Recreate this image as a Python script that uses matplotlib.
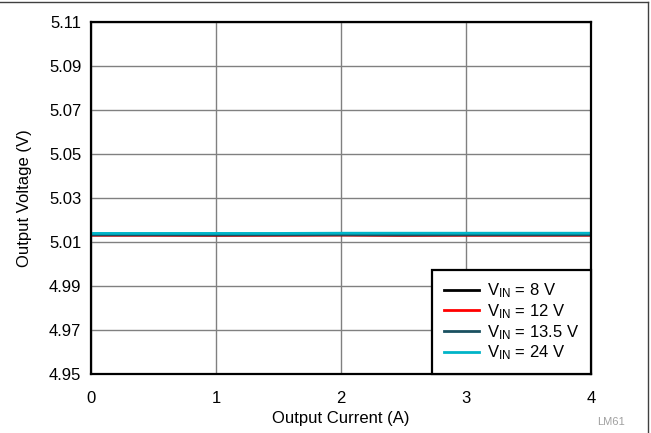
import numpy as np
import matplotlib.pyplot as plt
from matplotlib.lines import Line2D

plt.rcParams['font.family'] = ['Liberation Sans', 'DejaVu Sans']
plt.rcParams['mathtext.fontset'] = 'custom'
plt.rcParams['mathtext.rm'] = 'Liberation Sans'
plt.rcParams['mathtext.it'] = 'Liberation Sans'

# ======= DADOS =======
current = [0.0, 0.5, 1.0, 1.5, 2.0, 2.5, 3.0, 3.5, 4.0]
v_8 = [5.0132, 5.0132, 5.0131, 5.0132, 5.0132, 5.0131, 5.0132, 5.0132, 5.0132]
v_12 = [5.0131, 5.0131, 5.0131, 5.0131, 5.0132, 5.0131, 5.0131, 5.0131, 5.0131]
v_135 = [5.0133, 5.0133, 5.0133, 5.0133, 5.0134, 5.0133, 5.0133, 5.0133, 5.0133]
v_24 = [5.0139, 5.0139, 5.0139, 5.0139, 5.0140, 5.0140, 5.0140, 5.0140, 5.0140]

xticks = [0, 1, 2, 3, 4]
yticks = [4.95, 4.97, 4.99, 5.01, 5.03, 5.05, 5.07, 5.09, 5.11]

# ======= PLOTAR =======
fig = plt.figure(figsize=(6.51, 4.33), dpi=100)
ax = fig.add_axes([91/651, 1 - 374/433, 500/651, 352/433])

ax.plot(current, v_8, color="black", lw=2, label=r"V$_{\mathrm{IN}}$ = 8 V")
ax.plot(current, v_12, color="#ff0000", lw=2, label=r"V$_{\mathrm{IN}}$ = 12 V")
ax.plot(current, v_135, color="#1a5060", lw=2, label=r"V$_{\mathrm{IN}}$ = 13.5 V")
ax.plot(current, v_24, color="#00b4c8", lw=2, label=r"V$_{\mathrm{IN}}$ = 24 V")

ax.set_xlim(0, 4)
ax.set_ylim(4.95, 5.11)
ax.set_xticks(xticks)
ax.set_yticks(yticks)
ax.set_yticklabels([f"{y:.2f}" for y in yticks])
ax.tick_params(length=0, labelsize=12)
ax.tick_params(axis="x", pad=12)
ax.tick_params(axis="y", pad=7)
ax.grid(True, color="#808080", lw=1)
ax.set_axisbelow(True)
for s in ax.spines.values():
    s.set_linewidth(1.6)

ax.set_xlabel("Output Current (A)", fontsize=12, labelpad=4)
ax.set_ylabel("Output Voltage (V)", fontsize=12, labelpad=12)

leg = ax.legend(loc="lower right", fontsize=12, fancybox=False, framealpha=1,
                edgecolor="black", borderaxespad=0, handlelength=2.1,
                handletextpad=0.5, labelspacing=0.12, borderpad=0.7)
leg.get_frame().set_linewidth(1.6)

fig.text(0.96, 0.018, "LM61", fontsize=8, color="#a0a0a0", ha="right")

# moldura da figura (topo e direita)
fig.add_artist(Line2D([0, 0.996], [0.995, 0.995], color="#404040", lw=1))
fig.add_artist(Line2D([0.996, 0.996], [0, 0.995], color="#404040", lw=1))

plt.savefig("out.png", dpi=100)
